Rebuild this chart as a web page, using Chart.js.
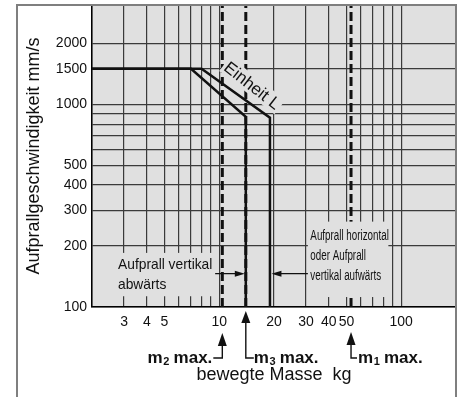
<!DOCTYPE html>
<html>
<head>
<meta charset="utf-8">
<script src="https://cdn.jsdelivr.net/npm/chart.js@4.4.1/dist/chart.umd.min.js"></script>
<style>
  html, body { margin: 0; padding: 0; background: #fff; }
  #chart { display: block; }
</style>
</head>
<body>
<canvas id="chart" width="461" height="397"></canvas>
<script>
// axis ticks / grid
const xGrid = [2, 3, 4, 5, 6, 7, 8, 9, 10, 20, 30, 40, 50, 60, 70, 80, 90, 100, 200];
const xLabels = [3, 4, 5, 10, 20, 30, 40, 50, 100];
const yGrid = [100, 200, 300, 400, 500, 600, 700, 800, 900, 1000, 1500, 2000];
const yLabels = [100, 200, 300, 400, 500, 1000, 1500, 2000];
const xMin = 2, xMax = 200, yMin = 100, yMax = 3100;

// limit curves (mass kg, speed mm/s)
const massInner = [2, 7, 14, 14];
const speedInner = [1500, 1500, 870, 100];
const massOuter = [2, 8, 19, 19];
const speedOuter = [1500, 1500, 860, 100];

// max masses
const m1Max = 53;
const m2Max = 10.4;
const m3Max = 14;

// labels
const leftBoxText = ['Aufprall vertikal', 'abwärts'];
const rightBoxText = ['Aufprall horizontal', 'oder Aufprall', 'vertikal aufwärts'];
const unitLabel = 'Einheit L';
const arrowSpeed = 146;

const bg = '#e0e0e0';
const gridColor = '#3a3a3a';
const FONT = '"Liberation Sans", Arial, sans-serif';
Chart.defaults.font.family = FONT;
Chart.defaults.color = '#111';

function toPoints(xs, ys) {
  return xs.map((x, i) => ({ x: x, y: ys[i] }));
}
function vLine(m) {
  return [{ x: m, y: yMin }, { x: m, y: yMax }];
}

function head(ctx, x, y, dir, len, half) {
  ctx.beginPath();
  ctx.moveTo(x, y);
  if (dir === 'up') { ctx.lineTo(x - half, y + len); ctx.lineTo(x + half, y + len); }
  else if (dir === 'right') { ctx.lineTo(x - len, y - half); ctx.lineTo(x - len, y + half); }
  else { ctx.lineTo(x + len, y - half); ctx.lineTo(x + len, y + half); }
  ctx.closePath();
  ctx.fill();
}

function condensed(ctx, text, x, y, sx) {
  ctx.save();
  ctx.translate(x, y);
  ctx.scale(sx, 1);
  ctx.fillText(text, 0, 0);
  ctx.restore();
}

function mLabel(ctx, x, y, sub, alignRight) {
  const big = 'bold 17px ' + FONT;
  const small = 'bold 11px ' + FONT;
  ctx.font = big;
  const wm = ctx.measureText('m').width;
  const wx = ctx.measureText(' max.').width;
  ctx.font = small;
  const ws = ctx.measureText(sub).width;
  const s = alignRight ? x - (wm + ws + wx) : x;
  ctx.textAlign = 'left';
  ctx.textBaseline = 'alphabetic';
  ctx.font = big; ctx.fillText('m', s, y);
  ctx.font = small; ctx.fillText(sub, s + wm + 0.5, y + 2);
  ctx.font = big; ctx.fillText(' max.', s + wm + ws, y);
}

const decor = {
  id: 'decor',
  beforeDraw(chart) {
    const { ctx, chartArea: a } = chart;
    ctx.save();
    ctx.fillStyle = '#fff';
    ctx.fillRect(0, 0, chart.width, chart.height);
    ctx.fillStyle = bg;
    ctx.fillRect(a.left, a.top, a.right - a.left, a.bottom - a.top);
    ctx.restore();
  },
  afterDatasetsDraw(chart) {
    const { ctx, chartArea: a } = chart;
    const sx = chart.scales.x, sy = chart.scales.y;
    ctx.save();

    // left label box
    const L = { l: a.left + 1, r: sx.getPixelForValue(9.5), t: sy.getPixelForValue(185), b: sy.getPixelForValue(113) };
    ctx.fillStyle = bg;
    ctx.fillRect(L.l, L.t, L.r - L.l, L.b - L.t);
    // right label box
    const R = { l: sx.getPixelForValue(30.7), r: sx.getPixelForValue(85), t: sy.getPixelForValue(264), b: sy.getPixelForValue(112) };
    ctx.fillRect(R.l, R.t, R.r - R.l, R.b - R.t);

    ctx.fillStyle = '#111';
    ctx.textAlign = 'left';
    ctx.textBaseline = 'middle';
    ctx.font = '15px ' + FONT;
    leftBoxText.forEach((t, i) => condensed(ctx, t, L.l + 25, L.t + 12 + i * 20, 0.92));
    ctx.font = '14px ' + FONT;
    rightBoxText.forEach((t, i) => condensed(ctx, t, R.l + 2.5, R.t + 15 + i * 20, 0.7));

    // arrows towards the limit lines
    const ay = sy.getPixelForValue(arrowSpeed);
    const xIn = sx.getPixelForValue(massInner[2]) - 1;
    const xOut = sx.getPixelForValue(massOuter[2]) + 1.5;
    ctx.strokeStyle = '#111';
    ctx.lineWidth = 1.2;
    ctx.beginPath();
    ctx.moveTo(L.r, ay); ctx.lineTo(xIn - 8, ay);
    ctx.moveTo(R.l, ay); ctx.lineTo(xOut + 8, ay);
    ctx.stroke();
    head(ctx, xIn, ay, 'right', 10, 3);
    head(ctx, xOut, ay, 'left', 10, 3);

    // "Einheit L" rotated label
    const cx = sx.getPixelForValue(15.2), cy = sy.getPixelForValue(1242);
    ctx.translate(cx, cy);
    ctx.rotate(38 * Math.PI / 180);
    ctx.font = '17px ' + FONT;
    const w = ctx.measureText(unitLabel).width;
    ctx.fillStyle = bg;
    ctx.fillRect(-w / 2 - 2, -9, w + 4, 18);
    ctx.fillStyle = '#111';
    ctx.textAlign = 'center';
    ctx.fillText(unitLabel, 0, 1);
    ctx.restore();
  },
  afterDraw(chart) {
    const { ctx, chartArea: a } = chart;
    const sx = chart.scales.x;
    ctx.save();

    // outer frame
    ctx.strokeStyle = '#7f7f7f';
    ctx.lineWidth = 2;
    ctx.beginPath();
    ctx.moveTo(17, chart.height); ctx.lineTo(17, a.top); ctx.lineTo(a.right, a.top); ctx.lineTo(a.right, chart.height);
    ctx.stroke();

    // m max. arrows below the axis
    const b = a.bottom, cy = b + 51;
    const x1 = sx.getPixelForValue(m1Max), x2 = sx.getPixelForValue(m2Max), x3 = sx.getPixelForValue(m3Max);
    ctx.strokeStyle = '#111';
    ctx.fillStyle = '#111';
    ctx.lineWidth = 1.4;
    ctx.beginPath();
    ctx.moveTo(x2 - 9, cy); ctx.lineTo(x2, cy); ctx.lineTo(x2, b + 36);
    ctx.moveTo(x3 + 8, cy); ctx.lineTo(x3, cy); ctx.lineTo(x3, b + 14);
    ctx.moveTo(x1 + 6, cy); ctx.lineTo(x1, cy); ctx.lineTo(x1, b + 36);
    ctx.stroke();
    head(ctx, x2, b + 26, 'up', 13, 4.5);
    head(ctx, x3, b + 4, 'up', 12, 4.5);
    head(ctx, x1, b + 25, 'up', 13, 4.5);

    mLabel(ctx, x2 - 10, cy + 5, '2', true);
    mLabel(ctx, x3 + 8, cy + 5, '3', false);
    mLabel(ctx, x1 + 7, cy + 5, '1', false);
    ctx.restore();
  }
};

const solid = { borderColor: '#111', borderWidth: 2.5, pointRadius: 0, tension: 0, fill: false };
const dashed = { borderColor: '#111', borderWidth: 3, borderDash: [9, 4], pointRadius: 0, fill: false };

new Chart(document.getElementById('chart'), {
  type: 'line',
  data: {
    datasets: [
      Object.assign({ data: vLine(m1Max) }, dashed),
      Object.assign({ data: vLine(m2Max) }, dashed),
      Object.assign({ data: vLine(m3Max) }, dashed),
      Object.assign({ data: toPoints(massInner, speedInner) }, solid),
      Object.assign({ data: toPoints(massOuter, speedOuter) }, solid)
    ]
  },
  options: {
    responsive: false,
    animation: false,
    layout: { padding: { top: 5, right: 5, left: 0, bottom: 0 } },
    plugins: { legend: { display: false }, tooltip: { enabled: false } },
    scales: {
      x: {
        type: 'logarithmic',
        min: xMin,
        max: xMax,
        afterBuildTicks: s => { s.ticks = xGrid.map(v => ({ value: v })); },
        afterFit: s => { s.height = 90; s.paddingLeft = 0; s.paddingRight = 0; },
        ticks: {
          autoSkip: false, maxRotation: 0, minRotation: 0, padding: 7,
          color: '#111', font: { size: 14 },
          callback: v => xLabels.includes(v) ? String(v) : ''
        },
        grid: { color: gridColor, lineWidth: 1.2, drawTicks: false },
        border: { color: '#000', width: 1.5 },
        title: { display: true, text: 'bewegte Masse  kg', color: '#111', font: { size: 18 }, padding: { top: 0, bottom: 11 } }
      },
      y: {
        type: 'logarithmic',
        min: yMin,
        max: yMax,
        afterBuildTicks: s => { s.ticks = yGrid.map(v => ({ value: v })); },
        afterFit: s => { s.width = 92; s.paddingTop = 0; s.paddingBottom = 0; },
        ticks: {
          autoSkip: false, padding: 5,
          color: '#111', font: { size: 14 },
          callback: v => yLabels.includes(v) ? String(v) : ''
        },
        grid: { color: gridColor, lineWidth: 1.2, drawTicks: false },
        border: { color: '#000', width: 1.5 },
        title: { display: true, text: 'Aufprallgeschwindigkeit mm/s', color: '#111', font: { size: 18 }, padding: { top: 23, bottom: 0 } }
      }
    }
  },
  plugins: [decor]
});
</script>
</body>
</html>
